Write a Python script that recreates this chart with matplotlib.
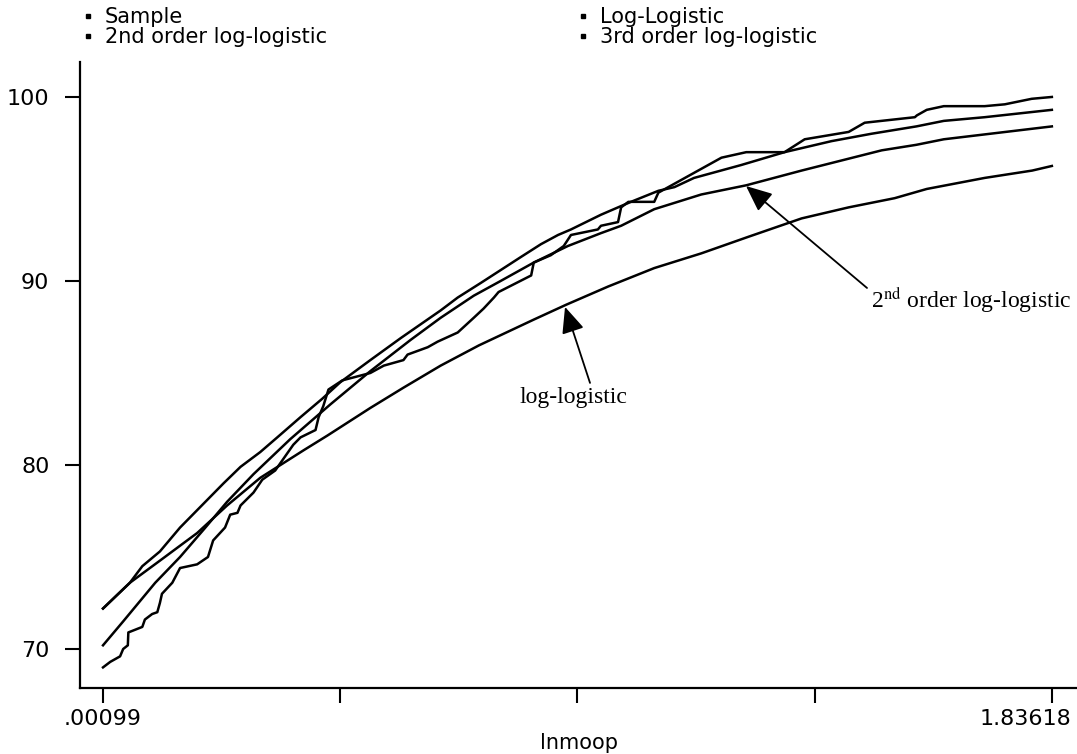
import numpy as np
import matplotlib
matplotlib.use("Agg")
import matplotlib.pyplot as plt
from matplotlib.lines import Line2D

# values (x = lnmoop, y = cumulative %)
x_sample = [0.001, 0.015, 0.034, 0.040, 0.049, 0.050, 0.077, 0.082, 0.096, 0.106,
            0.111, 0.115, 0.135, 0.150, 0.183, 0.204, 0.214, 0.237, 0.247, 0.261,
            0.267, 0.292, 0.309, 0.334, 0.369, 0.383, 0.412, 0.418, 0.427, 0.437,
            0.464, 0.518, 0.544, 0.582, 0.590, 0.629, 0.648, 0.687, 0.718, 0.737,
            0.757, 0.766, 0.829, 0.834, 0.867, 0.892, 0.906, 0.958, 0.964, 0.997,
            1.003, 1.017, 1.067, 1.075, 1.152, 1.197, 1.245, 1.319, 1.358, 1.443,
            1.474, 1.571, 1.575, 1.594, 1.627, 1.706, 1.745, 1.797, 1.836]
y_sample = [69.0, 69.3, 69.6, 70.0, 70.2, 70.9, 71.2, 71.6, 71.9, 72.0,
            72.5, 73.0, 73.6, 74.4, 74.6, 75.0, 75.9, 76.6, 77.3, 77.4,
            77.8, 78.5, 79.2, 79.7, 81.1, 81.5, 81.9, 82.6, 83.2, 84.1,
            84.6, 85.0, 85.4, 85.7, 86.0, 86.4, 86.7, 87.2, 88.0, 88.5,
            89.1, 89.4, 90.3, 91.0, 91.4, 91.9, 92.5, 92.8, 93.0, 93.2,
            94.0, 94.3, 94.3, 94.8, 96.0, 96.7, 97.0, 97.0, 97.7, 98.1,
            98.6, 98.9, 99.0, 99.3, 99.5, 99.5, 99.6, 99.9, 100.0]

x_ll = [0.001, 0.053, 0.111, 0.183, 0.241, 0.305, 0.389, 0.435, 0.518, 0.582,
        0.654, 0.728, 0.834, 0.896, 0.978, 1.067, 1.158, 1.249, 1.352, 1.443,
        1.532, 1.594, 1.706, 1.798, 1.836]
y_ll = [72.2, 73.6, 74.8, 76.3, 77.8, 79.3, 80.8, 81.6, 83.1, 84.2,
        85.4, 86.5, 87.9, 88.7, 89.7, 90.7, 91.5, 92.4, 93.4, 94.0,
        94.5, 95.0, 95.6, 96.0, 96.25]

x_2nd = [0.001, 0.040, 0.102, 0.150, 0.199, 0.241, 0.292, 0.363, 0.441, 0.518,
         0.596, 0.654, 0.718, 0.770, 0.834, 0.900, 0.964, 1.003, 1.067, 1.158,
         1.245, 1.352, 1.507, 1.574, 1.627, 1.836]
y_2nd = [70.2, 71.5, 73.6, 75.0, 76.6, 78.0, 79.5, 81.4, 83.3, 85.1,
         86.8, 88.0, 89.2, 90.0, 91.0, 91.9, 92.6, 93.0, 93.9, 94.7,
         95.2, 96.0, 97.1, 97.4, 97.7, 98.4]

x_3rd = [0.001, 0.053, 0.077, 0.111, 0.150, 0.199, 0.234, 0.267, 0.305, 0.338,
         0.383, 0.425, 0.460, 0.518, 0.577, 0.654, 0.687, 0.732, 0.765, 0.809,
         0.848, 0.881, 0.906, 0.964, 0.997, 1.022, 1.075, 1.106, 1.144, 1.235,
         1.319, 1.410, 1.487, 1.574, 1.627, 1.706, 1.836]
y_3rd = [72.2, 73.6, 74.5, 75.3, 76.6, 78.0, 79.0, 79.9, 80.7, 81.5,
         82.6, 83.6, 84.5, 85.7, 86.9, 88.4, 89.1, 89.9, 90.5, 91.3,
         92.0, 92.5, 92.8, 93.6, 94.0, 94.3, 94.9, 95.1, 95.6, 96.3,
         97.0, 97.6, 98.0, 98.4, 98.7, 98.9, 99.3]

x_min, x_max = 0.00099, 1.83618

plt.rcParams["font.family"] = "DejaVu Sans"
plt.rcParams["mathtext.fontset"] = "stix"

fig = plt.figure(figsize=(10.77, 7.54), dpi=100)
ax = fig.add_axes([80 / 1077, 66 / 754, 997 / 1077, 626 / 754])

for xs, ys in [(x_sample, y_sample), (x_ll, y_ll), (x_2nd, y_2nd), (x_3rd, y_3rd)]:
    ax.plot(xs, ys, color="black", lw=1.8)

ax.set_xlim(-0.0435, 1.8846)
ax.set_ylim(67.88, 101.9)
ax.set_xticks(np.linspace(x_min, x_max, 5))
ax.set_xticklabels([".00099", "", "", "", ""])
ax.set_yticks([70, 80, 90, 100])
ax.tick_params(direction="out", length=11, width=1.5, labelsize=16, colors="black")
ax.tick_params(axis="x", pad=4)
ax.tick_params(axis="y", pad=11)
for s in ["top", "right"]:
    ax.spines[s].set_visible(False)
for s in ["left", "bottom"]:
    ax.spines[s].set_linewidth(1.6)

# last tick label kept inside the figure, as in the original
ax.annotate("1.83618", xy=(x_max, 0), xycoords=("data", "axes fraction"),
            xytext=(14, -15), textcoords="offset points", ha="right", va="top",
            fontsize=16)
ax.set_xlabel("lnmoop", fontsize=15, labelpad=3)

arrow = dict(arrowstyle="-|>,head_length=0.8,head_width=0.35", color="black",
             lw=1.3, mutation_scale=20, shrinkA=0, shrinkB=0)
ax.annotate("", xy=(0.8945, 88.59), xytext=(0.9428, 84.46), arrowprops=arrow)
ax.text(0.910, 83.37, "log-logistic", family="Liberation Serif", fontsize=17,
        ha="center", va="baseline")
ax.annotate("", xy=(1.2445, 95.16), xytext=(1.4785, 89.62), arrowprops=arrow)
ax.text(1.486, 88.53, r"2$^{\mathrm{nd}}$ order log-logistic", family="Liberation Serif",
        fontsize=17, ha="left", va="baseline")


def dot():
    return Line2D([], [], ls="none", marker="s", ms=2.2, color="black")


leg_kw = dict(loc="upper left", frameon=False, fontsize=15, handlelength=0.6,
              handletextpad=0.5, labelspacing=0.0, borderpad=0, borderaxespad=0)
fig.legend([dot(), dot()], ["Sample", "2nd order log-logistic"],
           bbox_to_anchor=(82 / 1077, 1 - 7 / 754), **leg_kw)
fig.legend([dot(), dot()], ["Log-Logistic", "3rd order log-logistic"],
           bbox_to_anchor=(577 / 1077, 1 - 7 / 754), **leg_kw)

fig.savefig("out.png", dpi=100)
